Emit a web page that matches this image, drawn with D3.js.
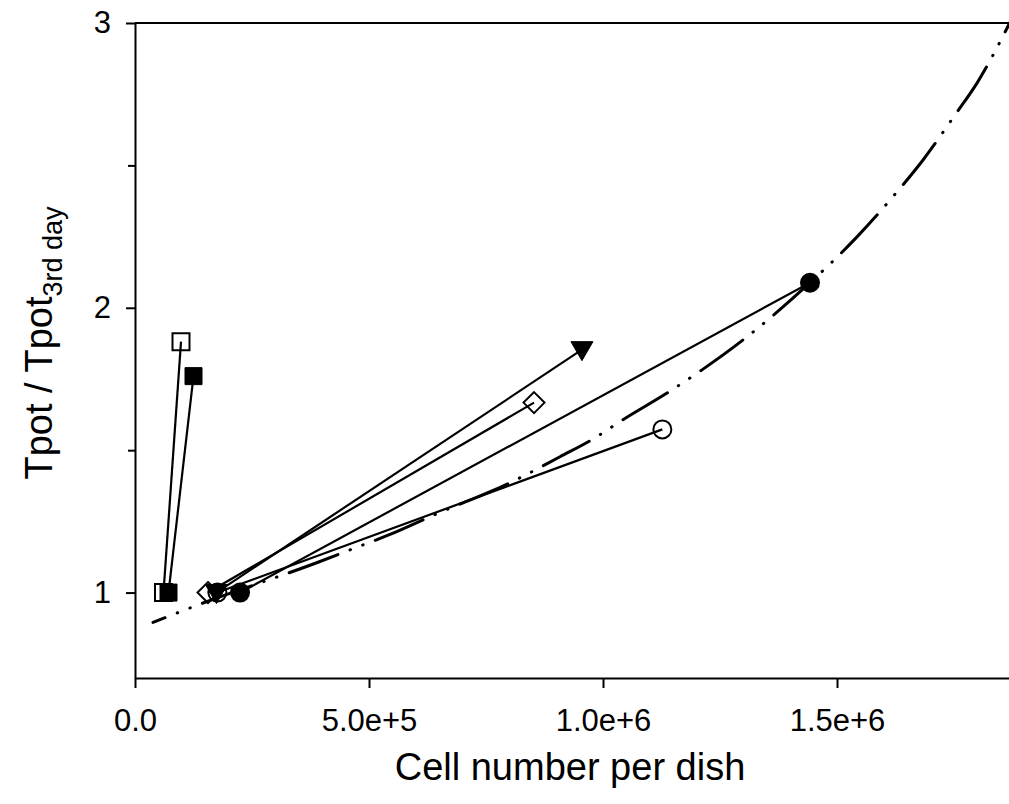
<!DOCTYPE html>
<html><head><meta charset="utf-8">
<script src="https://cdn.jsdelivr.net/npm/d3@7"></script>
<style>
body{margin:0;background:#fff}
svg{display:block}
text{font-family:"Liberation Sans",Arial,Helvetica,sans-serif;fill:#000}
</style>
</head><body>
<svg id="c" width="1009" height="804"></svg>
<script>
// ---- data ----
const xTicks = [0, 5e5, 1e6, 1.5e6];
const xTickLabels = ["0.0", "5.0e+5", "1.0e+6", "1.5e+6"];
const yTicks = [1, 2, 3];
const yTickLabels = ["1", "2", "3"];
const yMinorTicks = [1.5, 2.5];

const openSquareX = [60900, 98300],    openSquareY = [1.0, 1.881];
const filledSquareX = [71600, 125000], filledSquareY = [1.0, 1.760];
const triangleX = [174000, 955000],    triangleY = [1.0, 1.853];
const diamondX = [156000, 852600],     diamondY = [1.0, 1.667];
const openCircleX = [176000, 1126800], openCircleY = [1.0, 1.573];
const filledCircleX = [224400, 1442300], filledCircleY = [1.0, 2.088];

const fitX = [38460, 136750, 395300, 472200, 544900, 641000, 805600, 908100, 976500,
              1042700, 1141000, 1211500, 1307700, 1442300, 1542700, 1628200, 1683800,
              1752100, 1799100, 1869000];
const fitY = [0.895, 0.958, 1.109, 1.158, 1.204, 1.274, 1.389, 1.477, 1.537,
              1.607, 1.705, 1.782, 1.898, 2.088, 2.249, 2.407, 2.519,
              2.677, 2.789, 3.0];

// ---- layout ----
const L = 135, R = 1009, T = 23, B = 678;
const svg = d3.select("#c");
const x = d3.scaleLinear().domain([0, 1867500]).range([L, R]);
const y = d3.scaleLinear().domain([0.7, 3]).range([B, T]);

// axes
const xAxis = d3.axisBottom(x).tickValues(xTicks).tickFormat((d, i) => xTickLabels[i])
  .tickSize(10).tickSizeOuter(0).tickPadding(21);
const gx = svg.append("g").attr("transform", `translate(0,${B})`).call(xAxis);
gx.select(".domain").attr("stroke-width", 2);
gx.selectAll(".tick line").attr("stroke-width", 2);
gx.selectAll("text").style("font-size", "31px").attr("dy", "0.71em");

const yAxis = d3.axisLeft(y).tickValues(yTicks).tickFormat((d, i) => yTickLabels[i])
  .tickSize(9).tickSizeOuter(0).tickPadding(15);
const gy = svg.append("g").attr("transform", `translate(${L},0)`).call(yAxis);
gy.select(".domain").attr("stroke-width", 2);
gy.selectAll(".tick line").attr("stroke-width", 2);
gy.selectAll("text").style("font-size", "31px");
const yMinor = d3.axisLeft(y).tickValues(yMinorTicks).tickFormat("").tickSize(7).tickSizeOuter(0);
const gym = svg.append("g").attr("transform", `translate(${L},0)`).call(yMinor);
gym.select(".domain").remove();
gym.selectAll(".tick line").attr("stroke-width", 2);

// top frame line
svg.append("line").attr("x1", L).attr("x2", R).attr("y1", y(3)).attr("y2", y(3))
  .attr("stroke", "#000").attr("stroke-width", 2);

// axis titles
svg.append("text").attr("x", 570).attr("y", 780).attr("text-anchor", "middle")
  .style("font-size", "38px").text("Cell number per dish");
const yl = svg.append("text").attr("transform", "translate(52,343) rotate(-90)")
  .attr("text-anchor", "middle").style("font-size", "38px");
yl.append("tspan").text("Tpot / Tpot");
yl.append("tspan").attr("dy", 10).style("font-size", "27px").text("3rd day");

// fitted curve (dash-dot-dot)
const fitData = fitX.map((v, i) => [v, fitY[i]]);
const fitPath = svg.append("path").datum(fitData)
  .attr("d", d3.line().x(d => x(d[0])).y(d => y(d[1])).curve(d3.curveMonotoneX))
  .attr("fill", "none").attr("stroke", "#000").attr("stroke-width", 3)
  .attr("stroke-linecap", "round")
  .attr("stroke-dasharray", "52,13,0.5,13,0.5,13");
(function () {
  const node = fitPath.node();
  const total = node.getTotalLength();
  const target = x(1042700);
  let best = 0, bd = 1e9;
  for (let s = 0; s <= total; s += 0.5) {
    const p = node.getPointAtLength(s);
    const d = Math.abs(p.x - target);
    if (d < bd) { bd = d; best = s; }
  }
  const P = 52 + 13 + 0.5 + 13 + 0.5 + 13;
  fitPath.attr("stroke-dashoffset", P - (best % P));
})();

// connecting lines
const seriesList = [
  [openSquareX, openSquareY],
  [filledSquareX, filledSquareY],
  [triangleX, triangleY],
  [diamondX, diamondY],
  [openCircleX, openCircleY],
  [filledCircleX, filledCircleY]
];
seriesList.forEach(([xs, ys]) => {
  svg.append("line").attr("x1", x(xs[0])).attr("y1", y(ys[0]))
    .attr("x2", x(xs[1])).attr("y2", y(ys[1]))
    .attr("stroke", "#000").attr("stroke-width", 2.2);
});

// markers
function pts(xs, ys) { return xs.map((v, i) => [x(v), y(ys[i])]); }
const sq = "M-8.5,-8.5H8.5V8.5H-8.5Z";
const dia = "M0,-10.5L10.5,0L0,10.5L-10.5,0Z";
const tri = "M-11,-8L11,-8L0,11Z";

svg.selectAll(".osq").data(pts(openSquareX, openSquareY)).join("path")
  .attr("d", sq).attr("transform", d => `translate(${d[0]},${d[1]})`)
  .attr("fill", "none").attr("stroke", "#000").attr("stroke-width", 2);
svg.selectAll(".fsq").data(pts(filledSquareX, filledSquareY)).join("path")
  .attr("d", sq).attr("transform", d => `translate(${d[0]},${d[1]})`)
  .attr("fill", "#000").attr("stroke", "#000").attr("stroke-width", 1);
svg.selectAll(".dia").data(pts(diamondX, diamondY)).join("path")
  .attr("d", dia).attr("transform", d => `translate(${d[0]},${d[1]})`)
  .attr("fill", "none").attr("stroke", "#000").attr("stroke-width", 2);
svg.selectAll(".tri").data(pts(triangleX, triangleY)).join("path")
  .attr("d", tri).attr("transform", d => `translate(${d[0]},${d[1]})`)
  .attr("fill", "#000").attr("stroke", "#000").attr("stroke-width", 1);
svg.selectAll(".oc").data(pts(openCircleX, openCircleY)).join("circle")
  .attr("cx", d => d[0]).attr("cy", d => d[1]).attr("r", 9)
  .attr("fill", "none").attr("stroke", "#000").attr("stroke-width", 2);
svg.selectAll(".fc").data(pts(filledCircleX, filledCircleY)).join("circle")
  .attr("cx", d => d[0]).attr("cy", d => d[1]).attr("r", 10)
  .attr("fill", "#000");
</script>
</body></html>
